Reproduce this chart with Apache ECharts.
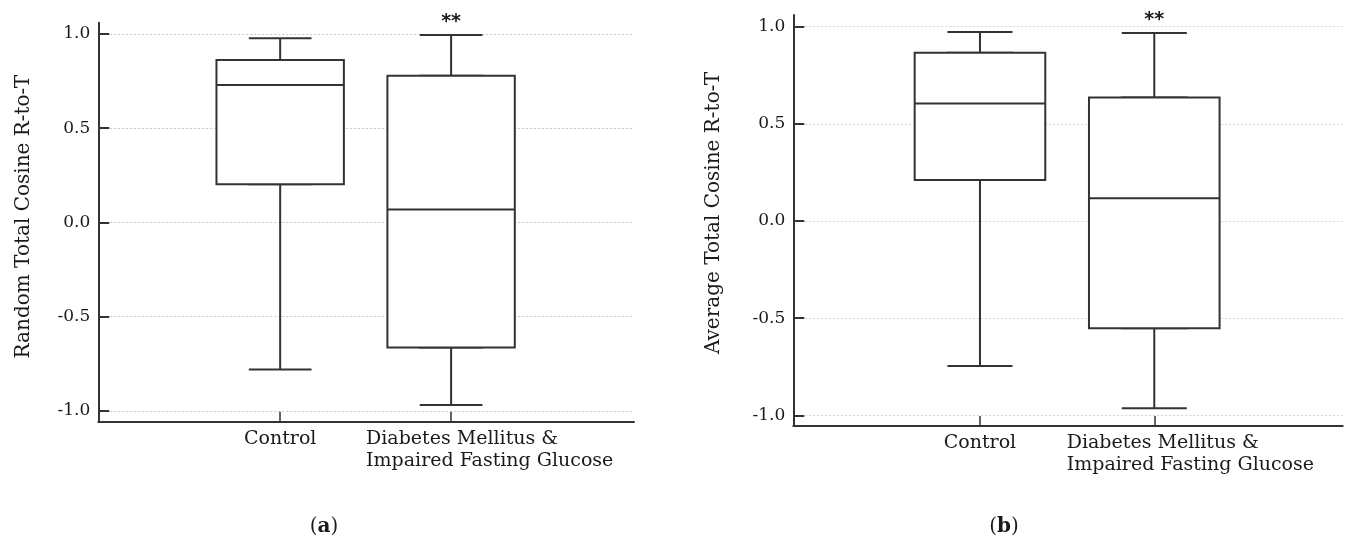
<!DOCTYPE html>
<html><head><meta charset="utf-8">
<script src="https://cdn.jsdelivr.net/npm/echarts@6/dist/echarts.min.js"></script>
<style>html,body{margin:0;padding:0;background:#fff}#c{width:1346px;height:554px}</style>
</head><body><div id="c"></div>
<script>
// ---- data ----
const categories = ['Control', 'Diabetes Mellitus &\nImpaired Fasting Glucose'];
const categoryPositions = [1, 2];
// box statistics: [min, Q1, median, Q3, max]
const randomControl = [-0.781, 0.203, 0.729, 0.862, 0.977];
const randomDM = [-0.970, -0.664, 0.069, 0.779, 0.995];
const averageControl = [-0.746, 0.211, 0.604, 0.866, 0.973];
const averageDM = [-0.964, -0.552, 0.117, 0.635, 0.968];
const yTicks = [-1.0, -0.5, 0.0, 0.5, 1.0];
const yTitles = ['Random Total Cosine R-to-T', 'Average Total Cosine R-to-T'];
const significance = ['', '**'];
const panelLabels = ['a', 'b'];

// ---- layout / style ----
const FONT = 'DejaVu Serif';
const INK = '#333333';
const TXT = '#1a1a1a';
const panels = [
  { stats: [randomControl, randomDM], title: yTitles[0], tag: panelLabels[0],
    grid: { left: 98.3, right: 712, top: 22.7, bottom: 132.3 },
    xMin: -0.064, xMax: 3.07, yMin: -1.058, yMax: 1.06,
    box: 127.4, cap: 62.7, gridColor: '#c2c7d4', nameGap: 65, namePad: 11,
    dmWidth: 259, labelShift: [0, 0.26], tagX: 324 },
  { stats: [averageControl, averageDM], title: yTitles[1], tag: panelLabels[1],
    grid: { left: 793.3, right: 3.3, top: 15, bottom: 128 },
    xMin: -0.071, xMax: 3.081, yMin: -1.055, yMax: 1.06,
    box: 130.6, cap: 65, gridColor: '#d4d4d4', nameGap: 70, namePad: 15,
    dmWidth: 264, labelShift: [0, 0.255], tagX: 1004 }
];

const grids = [], xAxes = [], yAxes = [], series = [], graphics = [];
panels.forEach((p, pi) => {
  grids.push(Object.assign({ containLabel: false, outerBoundsMode: 'none' }, p.grid));
  const labelPositions = categoryPositions.map((x, i) => x + p.labelShift[i]);
  const visX = xAxes.length;
  xAxes.push({
    type: 'value', gridIndex: pi, position: 'bottom', min: p.xMin, max: p.xMax,
    axisLine: { onZero: false, lineStyle: { color: INK, width: 2 } },
    axisTick: { customValues: categoryPositions, inside: true, length: 10, lineStyle: { color: INK, width: 1.5 } },
    splitLine: { show: false },
    axisLabel: {
      customValues: labelPositions, margin: 6, color: TXT, hideOverlap: false,
      formatter: (v) => {
        let i = 0, best = Infinity;
        labelPositions.forEach((lp, k) => { if (Math.abs(lp - v) < best) { best = Math.abs(lp - v); i = k; } });
        const lines = categories[i].split('\n');
        if (lines.length === 1) return '{c|' + lines[0] + '}';
        return lines.map(l => '{d|' + l + '}').join('\n');
      },
      rich: {
        c: { fontFamily: FONT, fontSize: 19, lineHeight: 22, color: TXT },
        d: { fontFamily: FONT, fontSize: 19, lineHeight: 22, color: TXT, width: p.dmWidth, align: 'left' }
      }
    }
  });
  const hidX = xAxes.length;
  xAxes.push({ type: 'value', gridIndex: pi, position: 'bottom', min: p.xMin, max: p.xMax, show: false });
  const yi = yAxes.length;
  yAxes.push({
    type: 'value', gridIndex: pi, min: p.yMin, max: p.yMax,
    axisLine: { show: true, onZero: false, lineStyle: { color: INK, width: 2 } },
    axisTick: { show: true, customValues: yTicks, inside: true, length: 11, lineStyle: { color: INK, width: 2 } },
    axisLabel: { customValues: yTicks, formatter: v => v.toFixed(1), fontFamily: FONT, fontSize: 17, color: TXT, margin: 8 },
    splitLine: { show: true, lineStyle: { type: [2, 2], color: p.gridColor, width: 1 } },
    name: p.title, nameLocation: 'middle', nameGap: p.nameGap,
    nameTextStyle: { fontFamily: FONT, fontSize: 20, color: TXT, padding: [0, 0, 0, p.namePad] }
  });
  // whiskers + caps (narrow)
  series.push({
    type: 'boxplot', xAxisIndex: hidX, yAxisIndex: yi, silent: true,
    boxWidth: [p.cap, p.cap],
    itemStyle: { color: '#fff', borderColor: INK, borderWidth: 2 },
    emphasis: { disabled: true },
    data: categoryPositions.map((x, i) => [x].concat(p.stats[i])),
    markPoint: {
      silent: true, symbol: 'circle', symbolSize: 0,
      label: { show: true, formatter: (d) => d.name, fontFamily: 'DejaVu Sans', fontWeight: 'bold', fontSize: 19, color: TXT, position: 'inside', offset: [0, -13] },
      data: categoryPositions.map((x, i) => ({ name: significance[i], coord: [x, p.stats[i][4]] })).filter(d => d.name)
    }
  });
  // boxes (wide)
  series.push({
    type: 'boxplot', xAxisIndex: visX, yAxisIndex: yi, silent: true,
    boxWidth: [p.box, p.box],
    itemStyle: { color: '#fff', borderColor: INK, borderWidth: 2 },
    emphasis: { disabled: true },
    data: categoryPositions.map((x, i) => { const s = p.stats[i]; return [x, s[1], s[1], s[2], s[3], s[3]]; })
  });
  graphics.push({
    type: 'text', x: p.tagX, y: 527,
    style: {
      text: '{p|(}{b|' + p.tag + '}{p|)}', textAlign: 'center', textVerticalAlign: 'middle',
      rich: {
        p: { fontFamily: FONT, fontSize: 20, fill: TXT, color: TXT },
        b: { fontFamily: FONT, fontSize: 20, fontWeight: 'bold', fill: TXT, color: TXT }
      }
    }
  });
});

const chart = echarts.init(document.getElementById('c'), null, { renderer: 'canvas' });
chart.setOption({
  animation: false,
  backgroundColor: '#fff',
  grid: grids, xAxis: xAxes, yAxis: yAxes, series: series, graphic: graphics
});
</script></body></html>
